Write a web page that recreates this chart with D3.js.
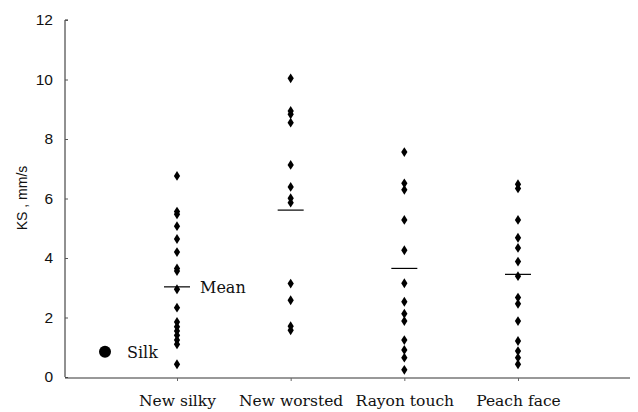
<!DOCTYPE html>
<html><head><meta charset="utf-8">
<script src="https://cdn.jsdelivr.net/npm/d3@7"></script>
<style>body{margin:0;background:#fff}svg{display:block}</style>
</head><body>
<svg id="c" width="638" height="412"></svg>
<script>
const categories = ["New silky", "New worsted", "Rayon touch", "Peach face"];
const newSilky = [6.76,5.56,5.47,5.07,4.64,4.20,3.65,3.56,2.95,2.33,1.85,1.69,1.55,1.40,1.24,1.10,0.43];
const newWorsted = [10.04,8.94,8.83,8.55,7.13,6.39,6.01,5.86,3.14,2.58,1.71,1.57];
const rayonTouch = [7.56,6.51,6.29,5.28,4.26,3.15,2.53,2.13,1.88,1.24,0.91,0.65,0.24];
const peachFace = [6.48,6.34,5.28,4.68,4.34,3.88,3.39,2.67,2.46,1.88,1.21,0.87,0.65,0.43];
const means = [3.03, 5.61, 3.65, 3.45];
const yTicks = [0,2,4,6,8,10,12];
const silk = [0.85];

const series = [newSilky, newWorsted, rayonTouch, peachFace];
const serif = "DejaVu Serif, serif";
const sans = "Liberation Sans, Arial, sans-serif";
const svg = d3.select("#c");
const y = d3.scaleLinear().domain([0,12]).range([377,20]);
const x = d3.scalePoint().domain(categories).range([177,518]);

// y axis
const yAxis = d3.axisLeft(y).tickValues(yTicks).tickSize(-3).tickPadding(12).tickFormat(d3.format("d"));
const gy = svg.append("g").attr("transform","translate(65,0)").call(yAxis);
gy.select(".domain").attr("d","M3,20H0V377").attr("stroke","#222");
gy.selectAll(".tick line").attr("stroke","#555");
gy.selectAll(".tick text").attr("font-family",sans).attr("font-size",15.5).attr("fill","#111");

// x axis
const xAxis = d3.axisBottom(x).tickSize(3).tickPadding(14);
const gxa = svg.append("g").attr("transform","translate(0,378)").call(xAxis);
gxa.select(".domain").attr("d","M65,0H630").attr("stroke","#333");
gxa.selectAll(".tick line").attr("stroke","#666");
gxa.selectAll(".tick text").attr("font-family",serif).attr("font-size",15.5).attr("fill","#111");

svg.append("text").attr("transform","translate(27,198) rotate(-90)").attr("text-anchor","middle")
  .attr("font-family",sans).attr("font-size",14).attr("fill","#111").text("KS , mm/s");

// points
const diamond = d3.symbol().type(d3.symbolDiamond).size(28);
series.forEach((vals,i)=>{
  svg.append("g").selectAll("path").data(vals).join("path")
    .attr("d",diamond)
    .attr("transform",d=>`translate(${x(categories[i])},${y(d)}) scale(1.1,1)`)
    .attr("fill","#000");
});

// means
svg.append("g").selectAll("line").data(means).join("line")
  .attr("x1",(d,i)=>x(categories[i])-13).attr("x2",(d,i)=>x(categories[i])+13)
  .attr("y1",d=>y(d)).attr("y2",d=>y(d)).attr("stroke","#000").attr("stroke-width",1.2);

svg.append("text").attr("x",x(categories[0])+23).attr("y",y(means[0])+6)
  .attr("font-family",serif).attr("font-size",16).attr("fill","#111").text("Mean");

// legend
svg.append("circle").attr("cx",105).attr("cy",y(silk[0])).attr("r",6).attr("fill","#000");
svg.append("text").attr("x",127).attr("y",y(silk[0])+6)
  .attr("font-family",serif).attr("font-size",16).attr("fill","#111").text("Silk");
</script>
</body></html>
